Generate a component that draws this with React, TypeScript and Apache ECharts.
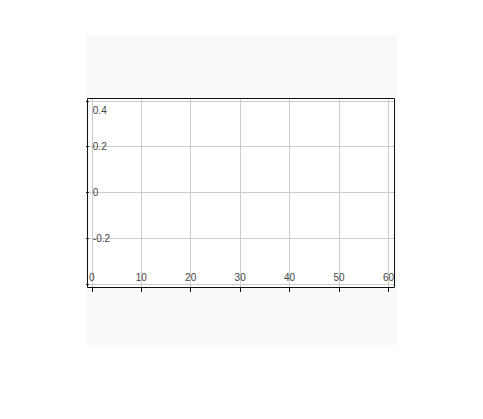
import * as echarts from 'echarts';
import { useEffect, useRef } from 'react';

// tick values on each axis (the lowest y grid line carries no label)
const xTicks = [0, 10, 20, 30, 40, 50, 60];
const yTicks = [-0.4, -0.2, 0, 0.2, 0.4];
const yLabels = [-0.2, 0, 0.2, 0.4];
// axis extents
const xRange = [-0.6, 61.3];
const yRange = [-0.4175, 0.413];
// the chart holds no data points
const seriesData: number[][] = [];

const GRID = { left: 1, top: 63, width: 308, height: 190 };

export default function App() {
    const chartRef = useRef<HTMLDivElement>(null);

    useEffect(() => {
        const chart = echarts.init(chartRef.current, null, { renderer: 'svg' });
        const labelFont = {
            color: '#444',
            fontSize: 10,
            fontFamily: 'Liberation Sans, Arial, sans-serif',
        };
        chart.setOption({
            animation: false,
            backgroundColor: '#f9f9f9',
            grid: {
                ...GRID,
                show: true,
                backgroundColor: '#fff',
                borderWidth: 0,
            },
            // plot frame, drawn above the grid lines
            graphic: [
                {
                    type: 'rect',
                    z: 100,
                    silent: true,
                    shape: { x: GRID.left + 0.5, y: GRID.top + 0.5, width: GRID.width - 1, height: GRID.height - 1 },
                    style: { fill: 'none', stroke: '#111', lineWidth: 1 },
                },
            ],
            xAxis: {
                type: 'value',
                min: xRange[0],
                max: xRange[1],
                axisLine: { show: false, onZero: false },
                axisTick: { show: true, length: 4, customValues: xTicks, lineStyle: { color: '#111' } },
                splitLine: { lineStyle: { color: '#ccc' } },
                axisLabel: {
                    ...labelFont,
                    inside: true,
                    margin: 6,
                    customValues: xTicks,
                    formatter: (v: number) => String(Math.round(v)),
                },
            },
            yAxis: {
                type: 'value',
                min: yRange[0],
                max: yRange[1],
                axisLine: { show: false, onZero: false },
                axisTick: { show: true, length: 4, customValues: yTicks, lineStyle: { color: '#111' } },
                splitLine: { lineStyle: { color: '#ccc' } },
                axisLabel: {
                    ...labelFont,
                    inside: true,
                    margin: 4,
                    customValues: yLabels,
                    formatter: (v: number) => {
                        const s = String(Math.round(v * 10) / 10);
                        // the top label sits just under its grid line
                        return Math.abs(v - 0.4) < 1e-6 ? '{t|' + s + '}' : s;
                    },
                    rich: {
                        t: { ...labelFont, padding: [19, 0, 0, 0] },
                    },
                },
            },
            series: [
                {
                    type: 'line',
                    data: seriesData,
                    showSymbol: false,
                },
            ],
        });

        return () => {
            chart.dispose();
        };
    }, []);

    return (
        <div style={{ paddingLeft: 78, paddingTop: 27 }}>
            <div ref={chartRef} style={{ width: 311, height: 310 }} />
        </div>
    );
}
